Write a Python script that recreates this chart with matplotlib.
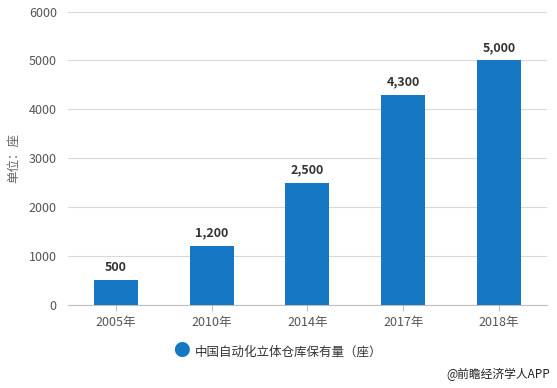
import matplotlib.pyplot as plt
import numpy as np

plt.rcParams['font.family'] = ['Noto Sans CJK SC', 'DejaVu Sans']

# data
years = ['2005年', '2010年', '2014年', '2017年', '2018年']
values = [500, 1200, 2500, 4300, 5000]
value_labels = ['500', '1,200', '2,500', '4,300', '5,000']
series_name = '中国自动化立体仓库保有量（座）'

bar_color = '#1677c5'

fig = plt.figure(figsize=(5.57, 3.88), dpi=100)
ax = fig.add_axes([0.122, 0.215, 0.860, 0.755])

x = np.arange(len(years))
bars = ax.bar(x, values, width=0.46, color=bar_color, zorder=3)

for xi, v, lab in zip(x, values, value_labels):
    ax.text(xi, v + 130, lab, ha='center', va='bottom', fontsize=9,
            fontweight='bold', color='#333333')

ax.set_xlim(-0.5, len(years) - 0.5)
ax.set_ylim(0, 6000)
ax.set_yticks(np.arange(0, 6001, 1000))
ax.set_xticks(x)
ax.set_xticklabels(years)
ax.tick_params(axis='y', length=0, labelsize=9, labelcolor='#555555', pad=8)
ax.tick_params(axis='x', length=4, color='#bfbfbf', labelsize=9, labelcolor='#555555', pad=4)
ax.grid(True, axis='y', color='#d9d9d9', linewidth=0.8, zorder=0)

for s in ['top', 'right', 'left']:
    ax.spines[s].set_visible(False)
ax.spines['bottom'].set_color('#bfbfbf')

ax.set_ylabel('单位：座', fontsize=9, color='#666666', labelpad=6)

# legend
fig.text(0.325, 0.093, '●', fontsize=12, color=bar_color, ha='center', va='center')
fig.text(0.350, 0.093, series_name, fontsize=9, fontweight='medium',
         color='#333333', ha='left', va='center')

fig.text(0.988, 0.035, '@前瞻经济学人APP', fontsize=8.5, color='#222222', ha='right', va='center')

plt.savefig('out.png', dpi=100)
